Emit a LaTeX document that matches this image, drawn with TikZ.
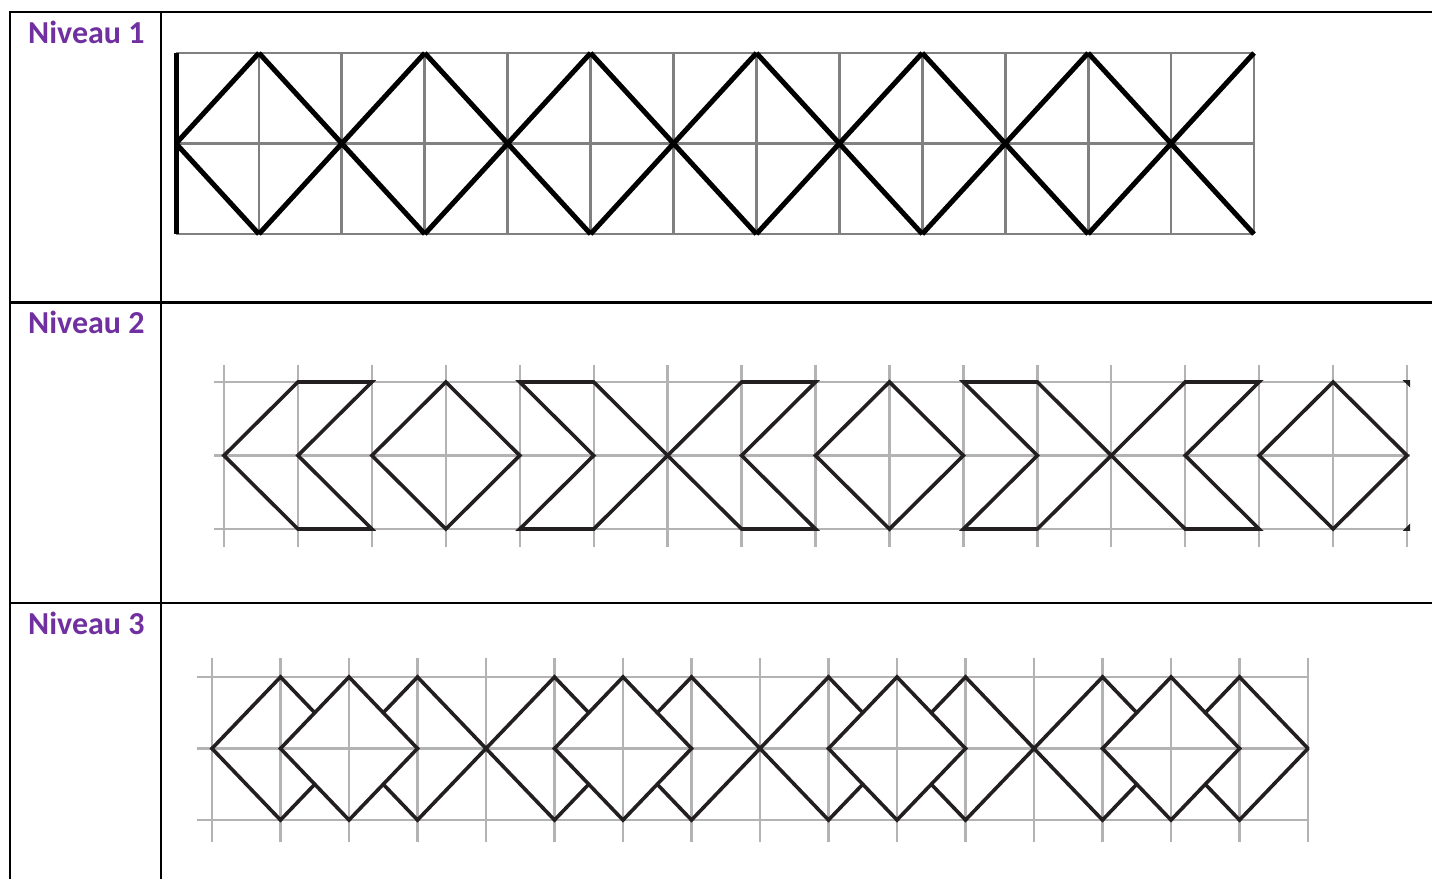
\documentclass[tikz,border=0pt]{standalone}
\usepackage{fontspec}
\setmainfont{Carlito}
\definecolor{lblpurple}{HTML}{7030A0}
\definecolor{inkdark}{HTML}{231F20}
\definecolor{gridmid}{HTML}{808080}
\definecolor{gridlight}{HTML}{B3B3B3}
\begin{document}
\begin{tikzpicture}[x=1pt,y=-1pt,
  tableline/.style={line width=2.4pt,black},
  lbl/.style={anchor=base west,inner sep=0pt,text=lblpurple,font=\fontsize{32}{36}\selectfont\bfseries},
  gridA/.style={line width=2.8pt,gridmid},
  inkA/.style={line width=5pt,black,line join=miter},
  gridB/.style={line width=2.4pt,gridlight},
  inkB/.style={line width=3.6pt,inkdark,line join=miter}]
\useasboundingbox (0,0) rectangle (1432,879);
% table
\draw[tableline] (1432,12) -- (10,12) -- (10,879);
\draw[tableline] (161,12) -- (161,879);
\draw[tableline] (10,302.5) -- (1432,302.5);
\draw[tableline] (10,603) -- (1432,603);
% labels
\node[lbl] (n1) at (28,43) {Niveau 1};
\node[lbl] (n2) at (28,333.5) {Niveau 2};
\node[lbl] (n3) at (28,634) {Niveau 3};
% ---------- Niveau 1 ----------
\begin{scope}[shift={(176,53)},x=82.92pt,y=-90.5pt]
  \foreach \i in {0,...,13} \draw[gridA] (\i,0) -- (\i,2);
  \foreach \j in {0,1,2} \draw[gridA] (0,\j) -- (13,\j);
  \draw[inkA] (0,0) -- (0,2);
  \foreach \i in {0,2,...,12} {
    \draw[inkA] (\i,1) -- ({\i+1},0);
    \draw[inkA] (\i,1) -- ({\i+1},2);
  }
  \foreach \i in {1,3,...,11} {
    \draw[inkA] (\i,0) -- ({\i+1},1);
    \draw[inkA] (\i,2) -- ({\i+1},1);
  }
\end{scope}
% ---------- Niveau 2 ----------
\begin{scope}[shift={(224,382)},x=73.94pt,y=-73.5pt]
  \foreach \i in {0,...,16} \draw[gridB] (\i,-0.23) -- (\i,2.25);
  \foreach \j in {0,1,2} \draw[gridB] (-0.135,\j) -- (16.04,\j);
  \clip (-1,-1) rectangle (16.04,3);
  % left chevrons
  \foreach \c in {0,6,12}
    \draw[inkB] (\c,1) -- ({\c+1},0) -- ({\c+2},0) -- ({\c+1},1) -- ({\c+2},2) -- ({\c+1},2) -- cycle;
  % diamonds
  \foreach \c in {2,8,14}
    \draw[inkB] (\c,1) -- ({\c+1},0) -- ({\c+2},1) -- ({\c+1},2) -- cycle;
  % right chevrons
  \foreach \c in {4,10,16}
    \draw[inkB] (\c,0) -- ({\c+1},0) -- ({\c+2},1) -- ({\c+1},2) -- (\c,2) -- ({\c+1},1) -- cycle;
\end{scope}
% ---------- Niveau 3 ----------
\begin{scope}[shift={(212,677)},x=68.5pt,y=-71.5pt]
  \foreach \i in {0,...,16} \draw[gridB] (\i,-0.27) -- (\i,2.31);
  \foreach \j in {0,1,2} \draw[gridB] (-0.22,\j) -- (16,\j);
  \clip (-1,-1) rectangle (16.02,3);
  \foreach \c in {0,4,8,12} {
    \draw[inkB] ({\c+1.5},0.5) -- ({\c+1},0) -- (\c,1) -- ({\c+1},2) -- ({\c+1.5},1.5);
    \draw[inkB] ({\c+1},1) -- ({\c+2},0) -- ({\c+3},1) -- ({\c+2},2) -- cycle;
    \draw[inkB] ({\c+2.5},0.5) -- ({\c+3},0) -- ({\c+4},1) -- ({\c+3},2) -- ({\c+2.5},1.5);
  }
\end{scope}
\end{tikzpicture}
\end{document}
